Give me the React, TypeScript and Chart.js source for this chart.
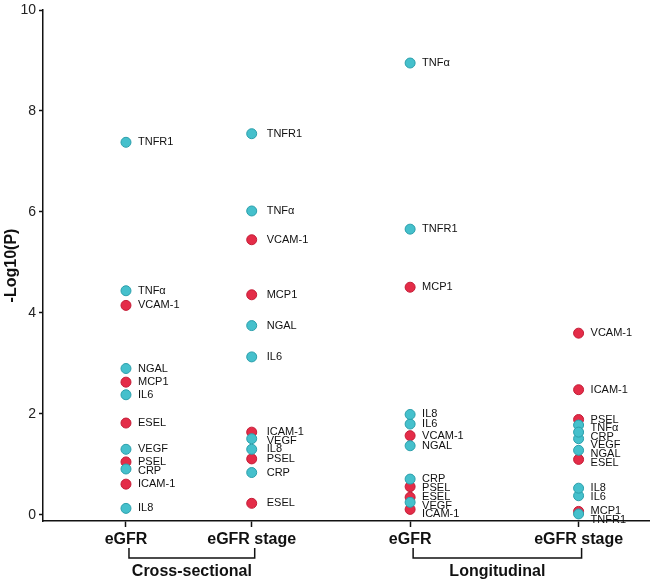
import { useEffect, useRef } from "react";
import { Chart, registerables } from "chart.js";

Chart.register(...registerables);

// ---- data ----
const columnLabels = ["eGFR", "eGFR stage", "eGFR", "eGFR stage"];
const groupLabels = ["Cross-sectional", "Longitudinal"];
const yTicks = [0, 2, 4, 6, 8, 10];

const tealMarkers = ["TNFR1", "TNFα", "NGAL", "IL6", "VEGF", "CRP", "IL8"];
const redMarkers = ["VCAM-1", "MCP1", "ESEL", "PSEL", "ICAM-1"];

// -Log10(P) per column, in the order of tealMarkers / redMarkers
const tealCrossEgfr = [7.38, 4.44, 2.9, 2.38, 1.3, 0.91, 0.13];
const tealCrossStage = [7.55, 6.02, 3.75, 3.13, 1.51, 0.84, 1.3];
const tealLongEgfr = [5.66, 8.95, 1.37, 1.8, 0.25, 0.71, 1.99];
const tealLongStage = [0.02, 1.78, 1.28, 0.38, 1.51, 1.64, 0.53];

const redCrossEgfr = [4.15, 2.63, 1.82, 1.05, 0.61];
const redCrossStage = [5.45, 4.36, 0.23, 1.11, 1.64];
const redLongEgfr = [1.57, 4.51, 0.35, 0.56, 0.11];
const redLongStage = [3.6, 0.07, 1.1, 1.89, 2.48];

// ---- layout (column slots on the x scale) ----
const COLUMN_X = [1, 2, 3.26, 4.6];
const X_MIN = 0.34;
const X_MAX = 5.16;
const LABEL_OFFSET = [12, 15, 12, 12];
const FONT = "'Liberation Sans', Arial, sans-serif";

function buildPoints(markers: string[], columns: number[][]) {
  const pts: any[] = [];
  columns.forEach((vals, ci) => {
    vals.forEach((v, mi) => {
      pts.push({ x: COLUMN_X[ci], y: v, col: ci, name: markers[mi] });
    });
  });
  return pts;
}

const labelPlugin = {
  id: "markerLabels",
  afterDatasetsDraw(chart: any) {
    const ctx = chart.ctx;
    const byCol: any[][] = [[], [], [], []];
    chart.data.datasets.forEach((ds: any, di: number) => {
      const meta = chart.getDatasetMeta(di);
      meta.data.forEach((el: any, i: number) => {
        const raw = ds.data[i];
        byCol[raw.col].push({ x: el.x, y: el.y, text: raw.name, col: raw.col });
      });
    });
    ctx.save();
    ctx.font = `11px ${FONT}`;
    ctx.fillStyle = "#111";
    ctx.textBaseline = "middle";
    ctx.textAlign = "left";
    const gap = 8.6;
    byCol.forEach((items) => {
      items.sort((a, b) => a.y - b.y);
      let last = -Infinity;
      items.forEach((it) => {
        const ly = Math.max(it.y, last + gap);
        last = ly;
        ctx.fillText(it.text, it.x + LABEL_OFFSET[it.col], ly);
      });
    });
    ctx.restore();
  },
  afterDraw(chart: any) {
    const ctx = chart.ctx;
    const xs = chart.scales.x;
    const bottom = chart.chartArea.bottom;
    const top = bottom + 27;
    const low = bottom + 37;
    ctx.save();
    ctx.strokeStyle = "#111";
    ctx.lineWidth = 1.5;
    ctx.fillStyle = "#111";
    ctx.font = `bold 16px ${FONT}`;
    ctx.textAlign = "center";
    ctx.textBaseline = "middle";
    groupLabels.forEach((g, gi) => {
      const a = xs.getPixelForValue(COLUMN_X[gi * 2]) + 3;
      const b = xs.getPixelForValue(COLUMN_X[gi * 2 + 1]) + 3;
      ctx.beginPath();
      ctx.moveTo(a, top);
      ctx.lineTo(a, low);
      ctx.lineTo(b, low);
      ctx.lineTo(b, top);
      ctx.stroke();
      ctx.fillText(g, (a + b) / 2, bottom + 51);
    });
    ctx.restore();
  },
};

export default function App() {
  const ref = useRef<HTMLCanvasElement>(null);

  useEffect(() => {
    if (!ref.current) return;
    const chart = new Chart(ref.current, {
      type: "scatter",
      data: {
        datasets: [
          {
            label: "teal",
            data: buildPoints(tealMarkers, [tealCrossEgfr, tealCrossStage, tealLongEgfr, tealLongStage]),
            backgroundColor: "#45c0cc",
            borderColor: "#2b9fab",
            borderWidth: 1,
            pointRadius: 5,
          },
          {
            label: "red",
            data: buildPoints(redMarkers, [redCrossEgfr, redCrossStage, redLongEgfr, redLongStage]),
            backgroundColor: "#e42c48",
            borderColor: "#c41d37",
            borderWidth: 1,
            pointRadius: 5,
          },
        ],
      },
      options: {
        animation: false,
        responsive: false,
        maintainAspectRatio: false,
        layout: { padding: { top: 6, right: 5, left: 0, bottom: 0 } },
        plugins: { legend: { display: false }, tooltip: { enabled: false } },
        scales: {
          x: {
            type: "linear",
            min: X_MIN,
            max: X_MAX,
            afterBuildTicks: (s: any) => {
              s.ticks = COLUMN_X.map((v) => ({ value: v }));
            },
            afterFit: (s: any) => {
              s.height = 62;
            },
            grid: { display: true, drawOnChartArea: false, drawTicks: true, tickLength: 6, tickColor: "#111", tickWidth: 1.5 },
            border: { display: true, color: "#111", width: 1.5 },
            ticks: {
              autoSkip: false,
              maxRotation: 0,
              padding: 3,
              color: "#111",
              font: { family: FONT, size: 16, weight: "bold" },
              callback: (_v: any, i: number) => columnLabels[i],
            },
          },
          y: {
            min: -0.12,
            max: 10,
            afterBuildTicks: (s: any) => {
              s.ticks = yTicks.map((v) => ({ value: v }));
            },
            afterFit: (s: any) => {
              s.width = 43;
            },
            grid: { display: true, drawOnChartArea: false, drawTicks: true, tickLength: 4, tickColor: "#111", tickWidth: 1.5 },
            border: { display: true, color: "#111", width: 1.5 },
            ticks: {
              padding: 3,
              color: "#222",
              font: { family: FONT, size: 14, lineHeight: 1 },
            },
            title: {
              display: true,
              text: "-Log10(P)",
              color: "#111",
              padding: { top: 2, bottom: 2 },
              font: { family: FONT, size: 16, weight: "bold" },
            },
          },
        },
      },
      plugins: [labelPlugin],
    } as any);
    return () => chart.destroy();
  }, []);

  return (
    <div style={{ position: "fixed", left: 0, top: 0, width: 655, height: 583, background: "#fff" }}>
      <canvas ref={ref} width={655} height={583} style={{ width: 655, height: 583 }} />
    </div>
  );
}
